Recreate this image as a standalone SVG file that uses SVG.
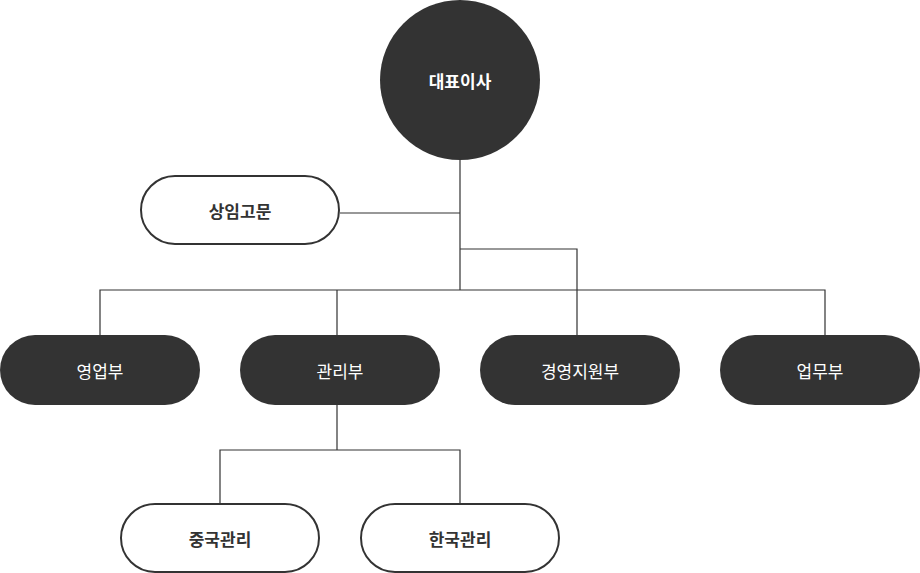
<svg xmlns="http://www.w3.org/2000/svg" width="920" height="573" viewBox="0 0 920 573">
<style>
.d{fill:#333}
.w{fill:#fff;stroke:#333;stroke-width:2}
.l{fill:none;stroke:#333;stroke-width:1.2}
text{font-family:"Noto Sans CJK KR",sans-serif;font-size:17px;text-anchor:middle;dominant-baseline:central}
.dt{fill:#fff}
.wt{fill:#333;font-weight:bold}
.ct{fill:#fff;font-weight:bold}
</style>
<rect width="920" height="573" fill="#fff"/>
<g id="connectors">
<path class="l" d="M460 160V290M340 213H460M460 249H577V335M100 335V290H825V335M337 290V335M337 405V450M220 503V450H460V503"/>
</g>
<g id="ceo"><circle class="d" cx="460" cy="80" r="80"/><text class="ct" x="460" y="80">대표이사</text></g>
<g id="advisor"><rect class="w" x="141" y="176" width="198" height="68" rx="34"/><text class="wt" x="240" y="210">상임고문</text></g>
<g id="sales"><rect class="d" x="0" y="335" width="200" height="70" rx="35"/><text class="dt" x="100" y="370">영업부</text></g>
<g id="mgmt"><rect class="d" x="240" y="335" width="200" height="70" rx="35"/><text class="dt" x="340" y="370">관리부</text></g>
<g id="support"><rect class="d" x="480" y="335" width="200" height="70" rx="35"/><text class="dt" x="580" y="370">경영지원부</text></g>
<g id="ops"><rect class="d" x="720" y="335" width="200" height="70" rx="35"/><text class="dt" x="820" y="370">업무부</text></g>
<g id="china"><rect class="w" x="121" y="504" width="198" height="68" rx="34"/><text class="wt" x="220" y="538">중국관리</text></g>
<g id="korea"><rect class="w" x="361" y="504" width="198" height="68" rx="34"/><text class="wt" x="460" y="538">한국관리</text></g>
</svg>
